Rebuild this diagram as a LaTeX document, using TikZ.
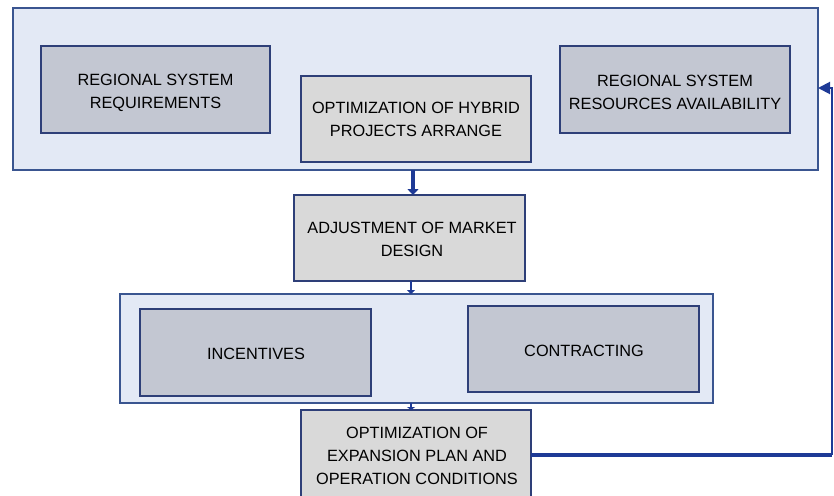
\documentclass[tikz,border=0pt]{standalone}
\usepackage{fontspec}
\setmainfont{Liberation Sans}
\usetikzlibrary{arrows.meta}
\definecolor{contfill}{HTML}{E3E9F5}
\definecolor{contline}{HTML}{3A5590}
\definecolor{bluebox}{HTML}{C3C7D2}
\definecolor{graybox}{HTML}{D9D9D9}
\definecolor{boxline}{HTML}{2E3F78}
\definecolor{arrowc}{HTML}{1E3A96}
\begin{document}
\begin{tikzpicture}[x=1pt,y=-1pt,
  cont/.style={draw=contline,fill=contfill,line width=1.2pt},
  bbox/.style={draw=boxline,fill=bluebox,line width=1.2pt},
  gbox/.style={draw=boxline,fill=graybox,line width=1.2pt},
  lbl/.style={align=center,font=\fontsize{16.3}{23}\selectfont,text=black},
  arr/.style={draw=arrowc,-{Triangle[width=9pt,length=6pt]}},
]
\useasboundingbox (0,0) rectangle (834,495);
% top container
\draw[cont] (13,8) rectangle (818,170);
\coordinate (topc) at (413,170);
\coordinate (topr) at (818,88);
\draw[bbox] (41,46) rectangle (270,133);
\node[lbl] (req) at (155.5,93) {REGIONAL SYSTEM\\REQUIREMENTS};
\draw[gbox] (301,76) rectangle (531,162);
\node[lbl] (hyb) at (416,119.5) {OPTIMIZATION OF HYBRID\\PROJECTS ARRANGE};
\draw[bbox] (560,46) rectangle (790,133);
\node[lbl] (res) at (675,92) {REGIONAL SYSTEM\\RESOURCES AVAILABILITY};
% adjustment
\draw[gbox] (294,195) rectangle (525,281);
\node[lbl] (adj) at (412,239.5) {ADJUSTMENT OF MARKET\\DESIGN};
\coordinate (adjt) at (413,195);
\coordinate (adjb) at (411,281);
% middle container
\draw[cont] (120,294) rectangle (713,403);
\coordinate (midt) at (411,294);
\coordinate (midb) at (411,403);
\draw[bbox] (140,309) rectangle (371,396);
\node[lbl] (inc) at (256,354) {INCENTIVES};
\draw[bbox] (468,306) rectangle (699,392);
\node[lbl] (con) at (584,351) {CONTRACTING};
% bottom
\draw[gbox] (301,410) rectangle (531,510);
\node[lbl] (opt) at (417,456) {OPTIMIZATION OF\\EXPANSION PLAN AND\\OPERATION CONDITIONS};
\coordinate (optt) at (411,410);
\coordinate (optr) at (531,455);
\coordinate (corner) at (832,455);
\coordinate (up) at (832,88);
% arrows
\draw[arr,line width=3.5pt,-{Triangle[width=11pt,length=6pt]}] (topc) -- (adjt);
\draw[arr,line width=2.5pt,-{Triangle[width=8pt,length=4pt]}] (adjb) -- (midt);
\draw[arr,line width=2pt,-{Triangle[width=8pt,length=3pt]}] (midb) -- (optt);
\draw[draw=arrowc,line width=4pt] (optr) -- (corner);
\draw[arr,line width=2pt,-{Triangle[width=12pt,length=12pt]}] (corner) -- (up) -- (topr);
\end{tikzpicture}
\end{document}
